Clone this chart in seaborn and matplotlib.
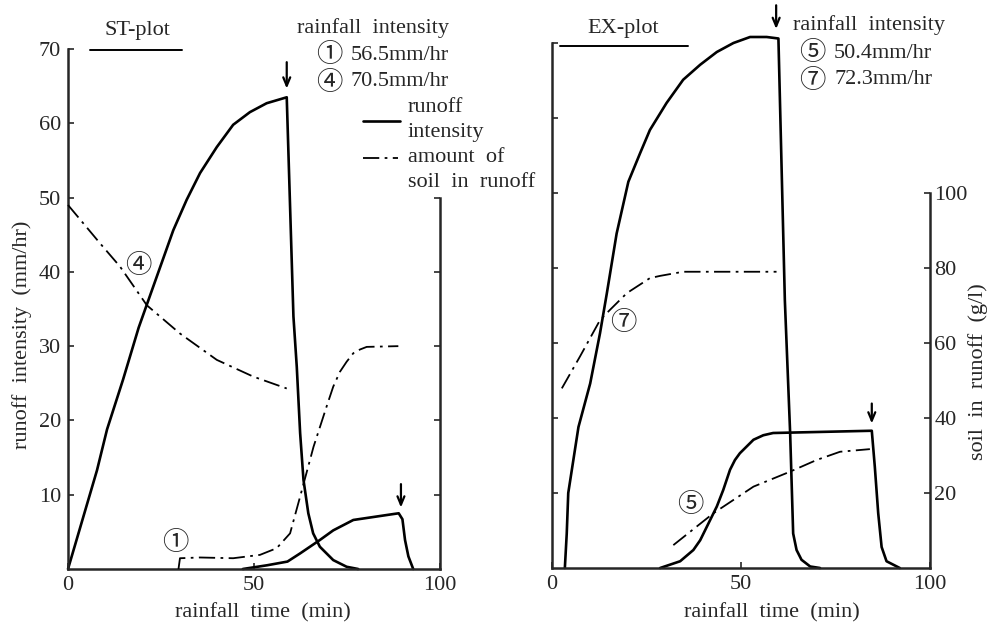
import matplotlib
matplotlib.use("Agg")
import matplotlib.pyplot as plt
from matplotlib.lines import Line2D
import seaborn as sns

# ---------------- data: ST-plot ----------------
st4_time = [0, 7.8, 10.5, 14.8, 19, 22.9, 25.6, 28.3, 31.9, 35.5, 40, 44.4, 48.9, 53.4, 58.8,
            60.6, 61.5, 62.4, 63.3, 64.6, 65.9, 67.7, 71.3, 74.9, 78]
st4_runoff = [0, 13.3, 18.8, 25.5, 32.5, 38.0, 41.8, 45.6, 49.7, 53.3, 56.8, 59.8, 61.5, 62.7, 63.5,
              34.0, 27.2, 18.3, 12, 7.5, 4.8, 3.0, 1.2, 0.3, 0]

st1_time = [47, 53.5, 59, 62.4, 67.7, 71.3, 76.7, 82.1, 87.5, 88.9, 89.9, 90.6, 91.5, 92.8]
st1_runoff = [0, 0.5, 1.0, 2.1, 3.9, 5.2, 6.6, 7.0, 7.4, 7.5, 6.7, 3.9, 1.7, 0]

st4_soil_time = [0, 8.6, 14, 21.2, 30.1, 40, 49.8, 58.8]
st4_soil = [98, 87.7, 81.4, 71.0, 63.4, 56.3, 51.8, 48.6]

st1_soil_time = [29.7, 30.1, 35.5, 44.4, 51.6, 56.1, 59.7, 62.4, 66, 69.5, 71.3, 73.1, 74.9, 76.7,
                 78.5, 80.3, 88.8]
st1_soil = [0, 2.9, 3.1, 2.9, 3.8, 5.6, 9.6, 19.5, 32.9, 43.7, 49.1, 53.1, 55.8, 58.1,
            59.1, 59.8, 60.0]

# ---------------- data: EX-plot ----------------
ex7_time = [3.4, 3.9, 4.3, 7.0, 10.1, 12.7, 14.5, 17.1, 20.2, 23.3, 25.9, 30.3, 34.7, 39.2, 43.6,
            48, 52.4, 56.8, 59.9, 61.6, 63, 63.8, 64.7, 66, 68.3, 70.9]
ex7_runoff = [0, 4.6, 10, 18.8, 24.6, 31.3, 36.6, 44.6, 51.5, 55.3, 58.4, 62, 65.1, 67.1, 68.8,
              70, 70.8, 70.8, 70.6, 35.7, 18, 4.6, 2.4, 1.1, 0.2, 0]

ex5_time = [28.6, 33.9, 37.4, 39.2, 43.6, 45.3, 47.1, 48.4, 49.7, 53.3, 55.9, 58.5, 84.6, 85.4,
            86.3, 87.2, 88.5, 92]
ex5_runoff = [0, 0.9, 2.4, 3.7, 8.2, 10.4, 13.1, 14.4, 15.3, 17.1, 17.7, 18, 18.3, 13.5,
              7.3, 2.8, 0.9, 0]

ex7_soil_time = [2.6, 7.4, 12.7, 15.3, 19.8, 25.9, 28.6, 34.7, 59.4]
ex7_soil = [47.9, 56.4, 66.1, 68.8, 73.3, 77.3, 77.9, 79, 79]

ex5_soil_time = [32.1, 42.7, 53.3, 63, 70, 76.2, 84.1]
ex5_soil = [6.1, 14.6, 21.7, 25.7, 28.8, 31, 31.7]

x_ticks = [0, 50, 100]
runoff_ticks = [10, 20, 30, 40, 50, 60, 70]
soil_ticks = [20, 40, 60, 80, 100]

# ---------------- style ----------------
sns.set_style("ticks")
FAM = ['Liberation Serif', 'Noto Sans CJK JP', 'DejaVu Sans']
CFAM = ['Noto Sans CJK JP', 'DejaVu Sans']
plt.rcParams['font.family'] = FAM
plt.rcParams['axes.linewidth'] = 1.8
FS = 16
CFS = 19  # circled digits

W, H = 989, 623
fig = plt.figure(figsize=(W / 100, H / 100), dpi=100)


def fx(px):
    return px / W


def fy(py):
    return 1 - py / H


ax1 = fig.add_axes([fx(68), fy(569), (440 - 68) / W, (569 - 49) / H])
ax2 = fig.add_axes([fx(552), fy(568), (930 - 552) / W, (568 - 43) / H])

DASH = (0, (9, 3, 1.5, 3))
SOLID_LW = 1.9
DASH_LW = 1.3


def curve(ax, x, y, dashed=False):
    sns.lineplot(x=x, y=y, ax=ax, color='black', sort=False, estimator=None,
                 linewidth=DASH_LW if dashed else SOLID_LW,
                 linestyle=DASH if dashed else '-', legend=False)
    ln = ax.lines[-1]
    ln.set_clip_on(False)
    ln.set_solid_joinstyle('round')


def setup(ax, label_left):
    ax.set_xlim(0, 100)
    ax.set_ylim(0, 70)
    ax.set_xticks(x_ticks)
    ax.set_yticks(runoff_ticks)
    ax.tick_params(direction='in', length=4, width=1.2, labelsize=FS, pad=5)
    ax.spines['top'].set_visible(False)
    ax.spines['right'].set_visible(False)
    if not label_left:
        ax.set_yticklabels([])
    ax.set_xlabel('rainfall  time  (min)', fontsize=FS, va='center')


setup(ax1, True)
setup(ax2, False)
ax1.xaxis.set_label_coords((263 - 68) / 372, (569 - 613) / 520)
ax2.xaxis.set_label_coords((772 - 552) / 378, (568 - 613) / 525)

t1 = ax1.twinx()
t2 = ax2.twinx()
for t in (t1, t2):
    t.set_ylim(0, 140)
    t.set_yticks(soil_ticks)
    t.tick_params(direction='in', length=4, width=1.2, labelsize=FS, pad=3)
    for s in ('top', 'left', 'bottom'):
        t.spines[s].set_visible(False)
    t.spines['right'].set_bounds(0, 100)
    t.spines['right'].set_linewidth(1.8)
t1.set_yticklabels([])

ax1.set_ylabel('runoff  intensity  (mm/hr)', fontsize=FS, va='center', ha='center')
ax1.yaxis.set_label_coords((22 - 68) / 372, (569 - 335) / 520)
t2.set_ylabel('soil  in  runoff  (g/l)', fontsize=FS, va='center', ha='center', rotation=90)
t2.yaxis.set_label_coords((978 - 552) / 378, (568 - 372) / 525)

# curves
curve(ax1, st4_time, st4_runoff)
curve(ax1, st1_time, st1_runoff)
curve(t1, st4_soil_time, st4_soil, dashed=True)
curve(t1, st1_soil_time, st1_soil, dashed=True)

curve(ax2, ex7_time, ex7_runoff)
curve(ax2, ex5_time, ex5_runoff)
curve(t2, ex7_soil_time, ex7_soil, dashed=True)
curve(t2, ex5_soil_time, ex5_soil, dashed=True)

# arrows marking end of rainfall
arrow = dict(arrowstyle='->,head_length=0.6,head_width=0.25', color='black', lw=1.6)
ax1.annotate('', xy=(st4_time[14], 64.3), xytext=(st4_time[14], 68.6), arrowprops=arrow, annotation_clip=False)
ax1.annotate('', xy=(st1_time[9] + 0.6, 7.9), xytext=(st1_time[9] + 0.6, 11.8), arrowprops=arrow, annotation_clip=False)
ax2.annotate('', xy=(ex7_time[18] - 0.6, 71.5), xytext=(ex7_time[18] - 0.6, 75.4), arrowprops=arrow, annotation_clip=False)
ax2.annotate('', xy=(ex5_time[12], 18.9), xytext=(ex5_time[12], 22.3), arrowprops=arrow, annotation_clip=False)

# curve labels
ax1.text(18.8, 40.9, '④', fontsize=CFS, family=CFAM, ha='center', va='center')
ax1.text(28.8, 3.5, '①', fontsize=CFS, family=CFAM, ha='center', va='center')
ax2.text(18.8, 32.7, '⑦', fontsize=CFS, family=CFAM, ha='center', va='center')
ax2.text(36.5, 8.4, '⑤', fontsize=CFS, family=CFAM, ha='center', va='center')

# panel titles with underline
fig.text(fx(137), fy(31), 'ST-plot', fontsize=FS, ha='center', va='center')
fig.add_artist(Line2D([fx(90), fx(182)], [fy(50), fy(50)], color='black', lw=1.4))
fig.text(fx(623), fy(28), 'EX-plot', fontsize=FS, ha='center', va='center')
fig.add_artist(Line2D([fx(560), fx(688)], [fy(46), fy(46)], color='black', lw=1.4))

# rainfall intensity notes
fig.text(fx(297), fy(28), 'rainfall  intensity', fontsize=FS, ha='left', va='center')
fig.text(fx(329), fy(55), '①', fontsize=CFS, family=CFAM, ha='center', va='center')
fig.text(fx(351), fy(55), '56.5mm/hr', fontsize=FS, ha='left', va='center')
fig.text(fx(329), fy(82), '④', fontsize=CFS, family=CFAM, ha='center', va='center')
fig.text(fx(351), fy(82), '70.5mm/hr', fontsize=FS, ha='left', va='center')

fig.text(fx(793), fy(25), 'rainfall  intensity', fontsize=FS, ha='left', va='center')
fig.text(fx(812), fy(53), '⑤', fontsize=CFS, family=CFAM, ha='center', va='center')
fig.text(fx(834), fy(53), '50.4mm/hr', fontsize=FS, ha='left', va='center')
fig.text(fx(812), fy(80), '⑦', fontsize=CFS, family=CFAM, ha='center', va='center')
fig.text(fx(834), fy(80), '72.3mm/hr', fontsize=FS, ha='left', va='center')

# legend (drawn as keys + text)
fig.add_artist(Line2D([fx(363), fx(400)], [fy(121), fy(121)], color='black', lw=SOLID_LW))
fig.text(fx(408), fy(107), 'runoff', fontsize=FS, ha='left', va='center')
fig.text(fx(408), fy(133), 'intensity', fontsize=FS, ha='left', va='center')
fig.add_artist(Line2D([fx(363), fx(398)], [fy(158), fy(158)], color='black', lw=DASH_LW, linestyle=DASH))
fig.text(fx(408), fy(158), 'amount  of', fontsize=FS, ha='left', va='center')
fig.text(fx(408), fy(182), 'soil  in  runoff', fontsize=FS, ha='left', va='center')

fig.savefig('out.png', dpi=100)
